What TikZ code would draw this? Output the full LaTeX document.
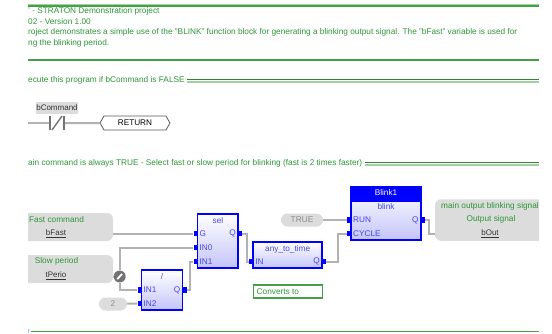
\documentclass[tikz,border=0pt]{standalone}
\usepackage{fontspec}
\setmainfont{Liberation Sans}
\usetikzlibrary{shapes.symbols}
\definecolor{cmtgreen}{RGB}{45,150,55}
\definecolor{linegreen}{RGB}{70,160,70}
\definecolor{pale}{RGB}{160,210,160}
\definecolor{varfill}{RGB}{220,220,220}
\definecolor{wiregray}{RGB}{178,178,178}
\definecolor{fbdblue}{RGB}{0,0,255}
\definecolor{fbdtext}{RGB}{70,70,235}
\definecolor{fbdlow}{RGB}{196,196,250}
\tikzset{
  cmt/.style={anchor=west, inner sep=0pt, text=cmtgreen, font=\fontsize{8.28}{8}\selectfont},
  cmtc/.style={inner sep=0pt, text=cmtgreen, font=\fontsize{8.28}{8}\selectfont},
  varname/.style={inner sep=0pt, text=black!80, font=\fontsize{8}{8}\selectfont},
  varbox/.style={fill=varfill, inner sep=0pt, rounded corners=6pt},
  constbox/.style={varbox, rounded corners=6.4pt, minimum height=13pt, text=black!45, font=\fontsize{8.3}{8}\selectfont},
  wire/.style={draw=wiregray, line width=2pt},
  fbd/.style={draw=fbdblue, line width=1.8pt, inner sep=0pt, top color=white, bottom color=fbdlow},
  stub/.style={fill=fbdblue, inner sep=0pt, minimum width=4.2pt, minimum height=5.2pt},
  fbdtxt/.style={inner sep=0pt, text=fbdtext, font=\fontsize{8.25}{8}\selectfont},
  pname/.style={fbdtxt, anchor=west},
  qname/.style={fbdtxt, anchor=east},
}
\begin{document}
\begin{tikzpicture}[x=1pt, y=-1pt]
  \useasboundingbox (0,0) rectangle (552,333);
  \clip (28,0) rectangle (539,333);
  % comment lines
  \draw[draw=pale, line width=2.6pt] (28,5.3) -- (539,5.3);
  \draw[draw=linegreen, line width=1.3pt] (28,6) -- (539,6);
  \draw[draw=linegreen, line width=2pt] (28,59.6) -- (539,59.6);
  \node[cmt] (title) at (28,11.5) {' - STRATON Demonstration project};
  \node[cmt] (version) at (28,22) {02 - Version 1.00};
  \node[cmt] (descr) at (28,32.7) {roject demonstrates a simple use of the "BLINK" function block for generating a blinking output signal. The "bFast" variable is used for};
  \node[cmt] (descrb) at (28,43) {ng the blinking period.};
  % rung 1
  \node[cmt] (cmta) at (28,80) {ecute this program if bCommand is FALSE};
  \draw[draw=linegreen!80!black, line width=1.1pt] (cmta.east |- 0,79.7) ++(2.5,0) -- (539,79.7);
  \draw[draw=pale, line width=1.7pt] (cmta.east |- 0,81.8) ++(2.5,0) -- (539,81.8);
  \node[fill=varfill, inner sep=0pt, minimum width=42pt, minimum height=12pt, font=\fontsize{8}{8}\selectfont, text=black!80] (bcmd) at (57,108) {bCommand};
  \coordinate (railin) at (28,123);
  \coordinate (cleft) at (49.5,123);
  \coordinate (cright) at (64.5,123);
  \node[signal, signal to=west and east, signal pointer angle=120, draw=black!65, line width=0.8pt, inner sep=0pt, minimum width=70pt, minimum height=14pt, font=\fontsize{8.2}{8}\selectfont] (ret) at (135,123) {RETURN};
  \draw[wire] (railin) -- (cleft);
  \draw[wire] (cright) -- (ret);
  \draw[draw=black!55, line width=1.4pt] (50,116) -- (50,130) (64,116) -- (64,130);
  \draw[draw=black!55, line width=1.4pt] (52,130) -- (62,116);
  % rung 2
  \node[cmt] (cmtb) at (28,163.7) {ain command is always TRUE - Select fast or slow period for blinking (fast is 2 times faster)};
  \draw[draw=linegreen!80!black, line width=1.1pt] (cmtb.east |- 0,162.6) ++(2.5,0) -- (539,162.6);
  \draw[draw=pale, line width=1.7pt] (cmtb.east |- 0,164.7) ++(2.5,0) -- (539,164.7);
  % variables
  \node[varbox, minimum width=103pt, minimum height=28pt] (fast) at (61.5,227) {};
  \node[cmtc] (fastc) at (56.5,219.5) {Fast command};
  \node[varname] (fastn) at (56,234) {\underline{bFast}};
  \node[varbox, minimum width=103pt, minimum height=28pt] (slow) at (61.5,269) {};
  \node[cmtc] (slowc) at (56.5,261.5) {Slow period};
  \node[varname] (slown) at (56,275.7) {\underline{tPerio}};
  \node[constbox, minimum width=28pt] (two) at (113,304) {2};
  \node[constbox, minimum width=42pt] (true) at (302,220) {TRUE};
  \node[varbox, minimum width=130pt, minimum height=41.5pt] (out) at (500,220) {};
  \node[cmtc] (outa) at (490,206) {main output blinking signal};
  \node[cmtc] (outb) at (491,219.7) {Output signal};
  \node[varname] (outn) at (490,233.7) {\underline{bOut}};
  % blocks
  \node[fbd, minimum width=40.5pt, minimum height=54pt] (sel) at (217.7,241) {};
  \node[fbdtxt] (sell) at (218,220.7) {sel};
  \node[fbd, minimum width=41pt, minimum height=40pt] (div) at (162,290) {};
  \node[fbdtxt] (divl) at (162,276.5) {/};
  \node[fbd, minimum width=69pt, minimum height=26pt] (any) at (287.7,255) {};
  \node[fbdtxt] (anyl) at (287.7,249) {any\_to\_time};
  \node[fbd, minimum width=69.5pt, minimum height=53pt] (blink) at (386,213.4) {};
  \fill[fbdblue] (351,186.9) rectangle (420.7,201.7);
  \node[fbdtxt, text=white] (blinki) at (386,192.5) {Blink1};
  \node[fbdtxt] (blinkl) at (386,206.5) {blink};
  % pins
  \foreach \nm/\x/\y/\t in {selG/195.6/233.7/G, selA/195.6/247.7/IN0, selB/195.6/261.7/IN1,
      divA/139.6/290/IN1, divB/139.6/303.5/IN2, anyI/251.4/261.7/IN, blinkR/349.1/220/RUN, blinkC/349.1/233.6/CYCLE} {
    \node[stub] (\nm) at (\x,\y) {};
    \node[pname] at (\x+3.8,\y) {\t};
  }
  \foreach \nm/\x/\y in {selQ/239.9/233.7, divQ/184.4/290, anyQ/323.9/261.7, blinkQ/422.6/220} {
    \node[stub] (\nm) at (\x,\y) {};
    \node[qname] at (\x-3.8,\y) {Q};
  }
  \node[fill=white, draw=linegreen, line width=1.7pt, inner sep=0pt, minimum width=69pt, minimum height=13pt] (note) at (288,291.3) {};
  \node[cmt] (notet) at (256.5,291.3) {Converts to};
  % junction
  \node[circle, fill=black!55, inner sep=0pt, minimum size=12pt] (jn) at (119.7,276.5) {};
  \draw[white, line width=1.8pt] (jn.center) ++(-2.4,2.6) -- ++(4.8,-5.2);
  % wires
  \coordinate (bendA) at (190,276);
  \coordinate (bendB) at (247,248);
  \coordinate (bendC) at (337.5,248);
  \coordinate (bendD) at (428.7,227);
  \draw[wire] (fast.east |- selG) -- (selG);
  \draw[wire] (selA) -| (jn);
  \draw[wire] (slow.east |- jn) -- (jn);
  \draw[wire] (jn) |- (divA);
  \draw[wire] (two) -- (divB);
  \draw[wire] (divQ) -| (bendA) |- (selB);
  \draw[wire] (selQ) -| (bendB) |- (anyI);
  \draw[wire] (anyQ) -| (bendC) |- (blinkC);
  \draw[wire] (true) -- (blinkR);
  \draw[wire] (blinkQ) -| (bendD) |- (out.west |- blinkC);
  % bottom line
  \coordinate (endl) at (31,331.8);
  \draw[draw=linegreen, line width=1.3pt] (endl) -- (539,331.8);
  \draw[draw=cyan!50, line width=1pt] (28.7,329) -- (28.7,333);
\end{tikzpicture}
\end{document}
